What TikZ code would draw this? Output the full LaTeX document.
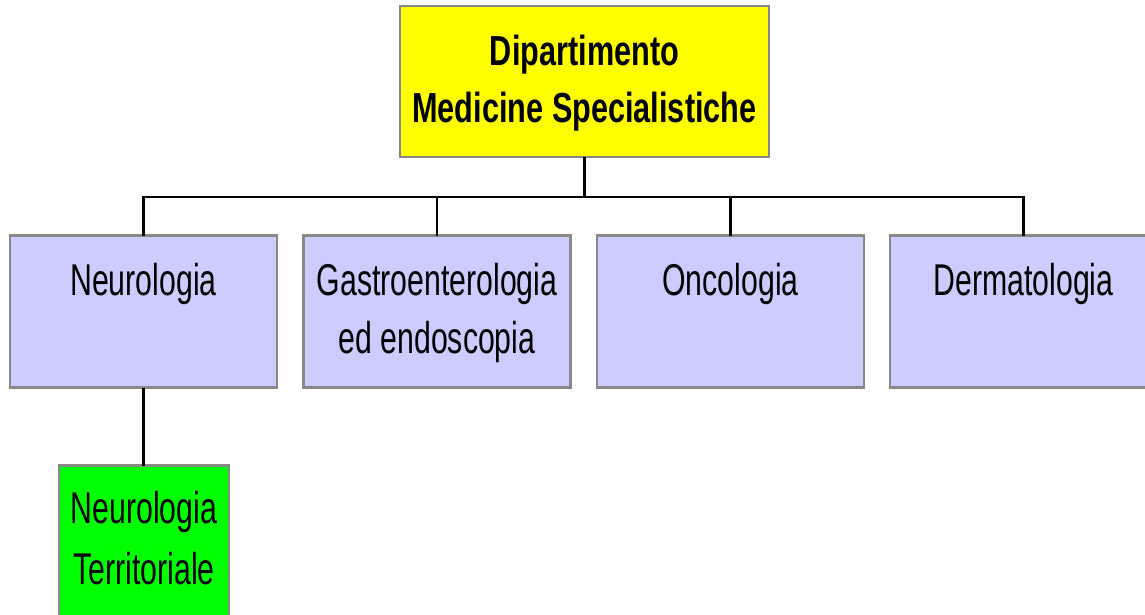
\documentclass[tikz,border=0pt]{standalone}
\usepackage{fontspec}
\setmainfont{Liberation Sans}[FakeStretch=0.68]
\newfontfamily\bcond{Liberation Sans}[FakeStretch=0.73]
\definecolor{lav}{HTML}{CCCCFF}
\definecolor{yel}{HTML}{FFFF00}
\definecolor{grn}{HTML}{00FF00}
\definecolor{edge}{HTML}{888888}
\begin{document}
\begin{tikzpicture}[x=1pt,y=-1pt,
  box/.style={draw=edge,line width=2.5pt,rectangle,inner sep=0pt,outer sep=0pt,anchor=north west},
  txt/.style={inner sep=0pt,anchor=base,align=center,font=\fontsize{44.5}{58}\selectfont},
  ttl/.style={inner sep=0pt,anchor=base,align=center,font=\fontsize{42}{57}\selectfont\bcond\bfseries},
  conn/.style={line width=2.2pt,black}]
\useasboundingbox (0,0) rectangle (1145,614);
\begin{scope}
\clip (0,0) rectangle (1145,614);
\node[box,fill=yel,minimum width=369pt,minimum height=151pt] (top) at (400,6) {};
\node[box,fill=lav,minimum width=267pt,minimum height=152pt] (neuro) at (10,235.5) {};
\node[box,fill=lav,minimum width=267pt,minimum height=152pt] (gastro) at (303.5,235.5) {};
\node[box,fill=lav,minimum width=267pt,minimum height=152pt] (onco) at (597,235.5) {};
\node[box,fill=lav,minimum width=267pt,minimum height=152pt] (derm) at (890,235.5) {};
\node[box,fill=grn,minimum width=170pt,minimum height=160pt] (terr) at (59,465.5) {};
\end{scope}
\node[ttl] (ttop) at (584.5,122) {Dipartimento\\Medicine Specialistiche};
\node[txt] (tneuro) at (143.5,295) {Neurologia};
\node[txt] (tgastro) at (437,353) {Gastroenterologia\\ed endoscopia};
\node[txt] (tonco) at (730.5,295) {Oncologia};
\node[txt] (tderm) at (1023.5,295) {Dermatologia};
\node[txt,font=\fontsize{44.5}{61}\selectfont] (tterr) at (144,584) {Neurologia\\Territoriale};
\coordinate (bus) at (top.south |- 0,197);
\draw[conn] (top.south) -- (bus);
\draw[conn] (bus) -| (neuro.north);
\draw[conn] (bus) -| (gastro.north);
\draw[conn] (bus) -| (onco.north);
\draw[conn] (bus) -| (derm.north);
\draw[conn] (neuro.south) -- (neuro.south |- terr.north);
\end{tikzpicture}
\end{document}
